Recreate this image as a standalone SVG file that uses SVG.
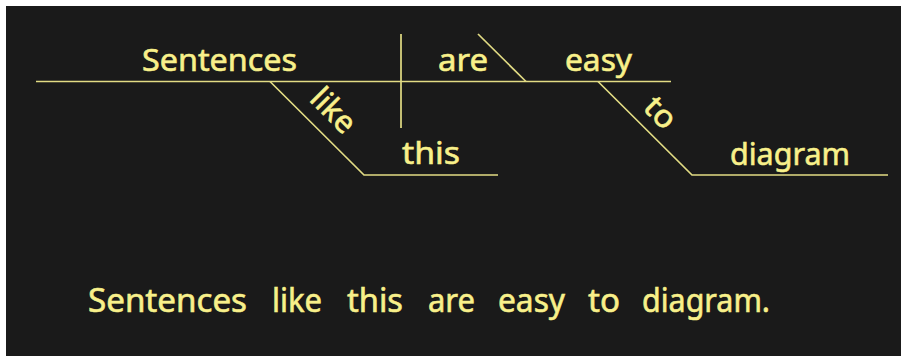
<svg xmlns="http://www.w3.org/2000/svg" width="901" height="356" viewBox="0 0 901 356">
<style>
.w{font-family:"Noto Sans","DejaVu Sans",sans-serif;font-size:31px;fill:#f8f08a;stroke:#f8f08a;stroke-width:0.6}
.ln{stroke:#e2dc84;stroke-width:1.7;fill:none;stroke-linecap:butt}
</style>
<rect x="0" y="0" width="901" height="356" fill="#ffffff"/>
<rect x="6" y="6" width="895" height="350" fill="#1a1a1a"/>
<g id="connectors">
<path class="ln" d="M36 81.5 H671"/>
<path class="ln" d="M401 34 V128"/>
<path class="ln" d="M478 34 L526 81.5"/>
<path class="ln" d="M270 81.5 L364 175 H498"/>
<path class="ln" d="M598 81.5 L692 175 H888"/>
</g>
<g id="subject"><text class="w" x="142" y="71" textLength="155" lengthAdjust="spacingAndGlyphs">Sentences</text></g>
<g id="verb"><text class="w" x="438" y="71" textLength="50" lengthAdjust="spacingAndGlyphs">are</text></g>
<g id="complement"><text class="w" x="565" y="71" textLength="67" lengthAdjust="spacingAndGlyphs">easy</text></g>
<g id="prep-like"><text class="w" text-anchor="middle" transform="translate(326 118) rotate(45)" textLength="50" lengthAdjust="spacingAndGlyphs">like</text></g>
<g id="object-this"><text class="w" x="402" y="164" textLength="58" lengthAdjust="spacingAndGlyphs">this</text></g>
<g id="inf-to"><text class="w" text-anchor="middle" transform="translate(653 120) rotate(45)" textLength="32" lengthAdjust="spacingAndGlyphs">to</text></g>
<g id="inf-diagram"><text class="w" x="730" y="165" textLength="120" lengthAdjust="spacingAndGlyphs">diagram</text></g>
<g id="sentence"><text class="w" y="312" style="font-size:32px"><tspan x="88" textLength="159" lengthAdjust="spacingAndGlyphs">Sentences</tspan> <tspan x="272" textLength="50" lengthAdjust="spacingAndGlyphs">like</tspan> <tspan x="347" textLength="56" lengthAdjust="spacingAndGlyphs">this</tspan> <tspan x="428" textLength="47" lengthAdjust="spacingAndGlyphs">are</tspan> <tspan x="498" textLength="67" lengthAdjust="spacingAndGlyphs">easy</tspan> <tspan x="588" textLength="32" lengthAdjust="spacingAndGlyphs">to</tspan> <tspan x="642" textLength="128" lengthAdjust="spacingAndGlyphs">diagram.</tspan></text></g>
</svg>
